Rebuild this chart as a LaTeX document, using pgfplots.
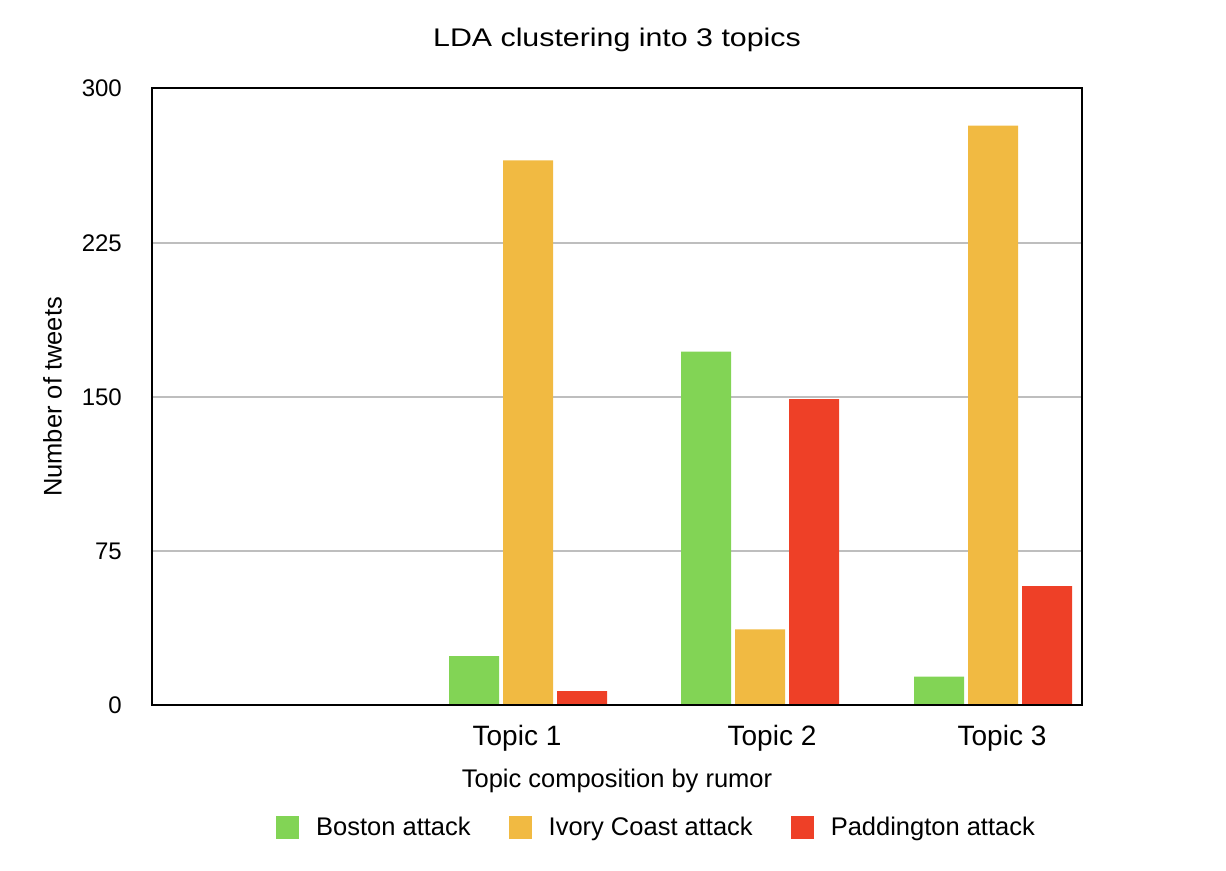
\documentclass[border=0pt]{standalone}
\usepackage{pgfplots}
\pgfplotsset{compat=1.18}
\usepackage{fontspec}
\setmainfont{Liberation Sans}
\definecolor{cgreen}{RGB}{130,212,85}
\definecolor{cyellow}{RGB}{241,186,66}
\definecolor{cred}{RGB}{238,64,39}
\definecolor{cgrid}{RGB}{190,190,190}
\newcommand{\fs}[1]{\fontsize{#1}{#1}\selectfont}
\begin{document}
\begin{tikzpicture}
\path[use as bounding box] (0,0) rectangle (1226pt,870pt);
\begin{axis}[
  at={(152pt,164.5pt)}, anchor=south west,
  scale only axis, width=930pt, height=617pt,
  xmin=0, xmax=930, ymin=0, ymax=300,
  ybar, bar width=50, bar shift=0pt,
  xtick={365,620,850},
  xticklabels={Topic 1,Topic 2,Topic 3},
  ytick={0,75,150,225,300},
  major tick length=0pt,
  ymajorgrids, major grid style={cgrid, line width=1.6pt},
  axis line style={black, line width=2pt},
  /pgf/number format/assume math mode=true,
  xticklabel style={font=\fs{28}, anchor=base, inner sep=0pt, yshift=-40pt},
  yticklabel style={font=\fs{24}, anchor=east, inner sep=0pt, xshift=-30pt},
  title={\scalebox{1.19}[1]{LDA clustering into 3 topics}},
  title style={font=\fs{25.5}, at={(axis description cs:0.5,1)}, anchor=base, inner sep=0pt, yshift=35.5pt},
  xlabel={Topic composition by rumor},
  xlabel style={font=\fs{25.5}, at={(axis description cs:0.5,0)}, anchor=base, inner sep=0pt, yshift=-82pt},
  ylabel={Number of tweets},
  ylabel style={font=\fs{25.5}, at={([xshift=-90.3pt]axis description cs:0,0.5)}, anchor=base, inner sep=0pt},
  legend columns=3,
  legend style={draw=none, fill=none, inner sep=0pt, font=\fs{25.5},
    at={(axis description cs:0.1333,-0.1977)}, anchor=west,
    nodes={inner sep=0pt},
    /tikz/every odd column/.append style={column sep=17pt},
    /tikz/every even column/.append style={column sep=38pt}},
  legend image code/.code={\fill[#1] (0pt,-11.5pt) rectangle (23pt,11.5pt);},
]
\addplot[draw=none, fill=cgreen] coordinates {(322,24) (554,172) (787,14)};
\addplot[draw=none, fill=cyellow] coordinates {(376,265) (608,37) (841,282)};
\addplot[draw=none, fill=cred] coordinates {(430,7) (662,149) (895,58)};
\legend{Boston attack, Ivory Coast attack, Paddington attack}
\draw[black, line width=2pt] (rel axis cs:0,0) rectangle (rel axis cs:1,1);
\end{axis}
\end{tikzpicture}
\end{document}
